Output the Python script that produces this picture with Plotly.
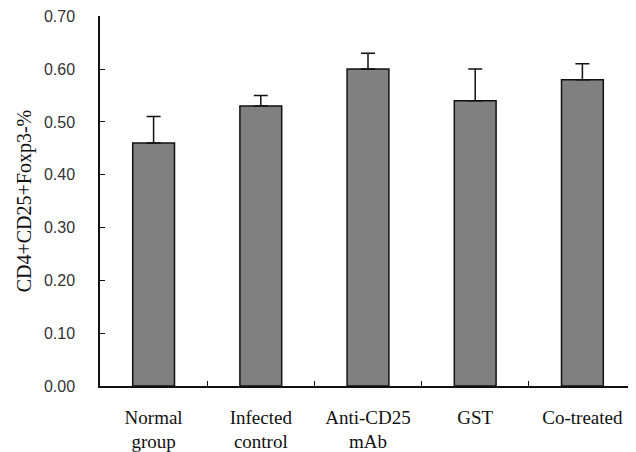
import plotly.graph_objects as go

categories = ["Normal<br>group", "Infected<br>control", "Anti-CD25<br>mAb", "GST", "Co-treated"]
values = [0.46, 0.53, 0.60, 0.54, 0.58]
errors = [0.05, 0.02, 0.03, 0.06, 0.03]
y_ticks = [0.0, 0.1, 0.2, 0.3, 0.4, 0.5, 0.6, 0.7]

fig = go.Figure(go.Bar(
    x=categories, y=values,
    width=0.39,
    marker=dict(color="#808080", line=dict(color="#111111", width=1.5)),
    error_y=dict(type="data", symmetric=False, array=errors,
                 arrayminus=[0] * len(errors),
                 color="#111111", thickness=1.5, width=7),
))

# page body has an 8px margin, so the figure is sized to fit the 636x452 window
fig.update_layout(
    width=628, height=444,
    margin=dict(l=92, r=0, t=8, b=66),
    paper_bgcolor="white", plot_bgcolor="white",
    showlegend=False,
)
fig.update_xaxes(
    showline=True, linecolor="#111111", linewidth=1.5,
    ticks="inside", ticklen=5, tickcolor="#111111", tickwidth=1,
    tickson="boundaries",
    tickfont=dict(family="Liberation Serif", size=19, color="#111111"),
    ticklabelstandoff=13,
    showgrid=False, zeroline=False, automargin=False,
)
fig.update_yaxes(
    range=[0, 0.7005], tickvals=y_ticks, tickformat=".2f",
    showline=True, linecolor="#111111", linewidth=1.5,
    ticks="inside", ticklen=5, tickcolor="#111111", tickwidth=1,
    tickfont=dict(family="Liberation Sans", size=16, color="#333333"),
    ticklabelstandoff=20, ticklabeloverflow="allow",
    showgrid=False, zeroline=False, automargin=False,
    title=dict(text="CD4+CD25+Foxp3-%", standoff=7,
               font=dict(family="Liberation Serif", size=20, color="#111111")),
)

fig.write_html("out.html")
